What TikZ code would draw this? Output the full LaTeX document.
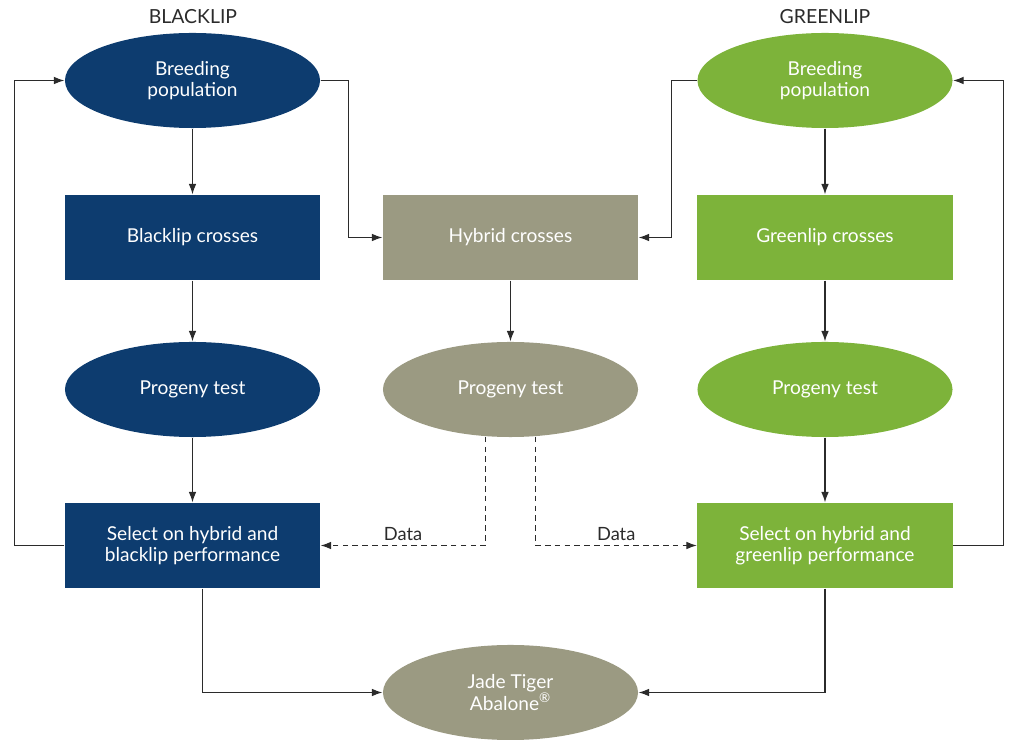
\documentclass[tikz,border=0pt]{standalone}
\usepackage{fontspec}
\setmainfont{Lato}
\usetikzlibrary{shapes.geometric,arrows.meta}
\definecolor{blacklip}{HTML}{0D3C6F}
\definecolor{greenlip}{HTML}{7DB33A}
\definecolor{hybrid}{HTML}{9B9A82}
\definecolor{linegray}{HTML}{2B2B2B}

\begin{document}
\begin{tikzpicture}[x=0.025cm, y=-0.025cm, >={Latex[length=7.5pt,width=5.5pt]}, line width=0.85pt,
    oval/.style={ellipse, inner sep=0pt, minimum width=6.375cm, minimum height=2.375cm, text=white, align=center, font=\fontsize{13.6}{15}\selectfont},
    box/.style={rectangle, inner sep=0pt, minimum width=6.375cm, minimum height=2.125cm, text=white, align=center, font=\fontsize{13.6}{15}\selectfont},
    head/.style={text=linegray, font=\fontsize{13.8}{15}\selectfont},
    link/.style={->, draw=linegray},
    data/.style={link, dash pattern=on 4pt off 3pt}]

    \useasboundingbox (0,0) rectangle (1009,740);

    \node[head] (blackhead) at (193,17) {BLACKLIP};
    \node[head] (greenhead) at (825,17) {GREENLIP};

    \node[oval, fill=blacklip] (breedL) at (192.5,80.5) {Breeding\\population};
    \node[box, fill=blacklip] (crossL) at (192.5,237.5) {Blacklip crosses};
    \node[oval, fill=blacklip] (progL) at (192.5,389.5) {Progeny test};
    \node[box, fill=blacklip] (selL) at (192.5,545.5) {Select on hybrid and\\blacklip performance};

    \node[box, fill=hybrid] (hyb) at (510.5,237.5) {Hybrid crosses};
    \node[oval, fill=hybrid] (hybProg) at (510.5,389.5) {Progeny test};
    \node[oval, fill=hybrid] (jade) at (510.5,692.5) {Jade Tiger\\Abalone\textsuperscript{®}};

    \node[oval, fill=greenlip] (breedR) at (825,80.5) {Breeding\\population};
    \node[box, fill=greenlip] (crossR) at (825,237.5) {Greenlip crosses};
    \node[oval, fill=greenlip] (progR) at (825,389.5) {Progeny test};
    \node[box, fill=greenlip] (selR) at (825,545.5) {Select on hybrid and\\greenlip performance};

    % columns
    \draw[link] (breedL) -- (crossL);
    \draw[link] (crossL) -- (progL);
    \draw[link] (progL) -- (selL);
    \draw[link] (hyb) -- (hybProg);
    \draw[link] (breedR) -- (crossR);
    \draw[link] (crossR) -- (progR);
    \draw[link] (progR) -- (selR);

    % feedback loops
    \draw[link] (selL.west) -- ++(-50,0) |- (breedL.west);
    \draw[link] (selR.east) -- ++(50,0) |- (breedR.east);

    % into the hybrid crosses
    \draw[link] (breedL.east) -- ++(28,0) |- (hyb.west);
    \draw[link] (breedR.west) -- ++(-25,0) |- (hyb.east);

    % data back to selection
    \draw[data] (hybProg.242) |- node[above, pos=0.75, text=linegray, font=\fontsize{13}{15}\selectfont] {Data} (selL.east);
    \draw[data] (hybProg.298) |- node[above, pos=0.75, text=linegray, font=\fontsize{13}{15}\selectfont] {Data} (selR.west);

    % to the hybrid product
    \draw[link] ([xshift=0.25cm]selL.south) |- (jade.west);
    \draw[link] (selR.south) |- (jade.east);
\end{tikzpicture}
\end{document}
